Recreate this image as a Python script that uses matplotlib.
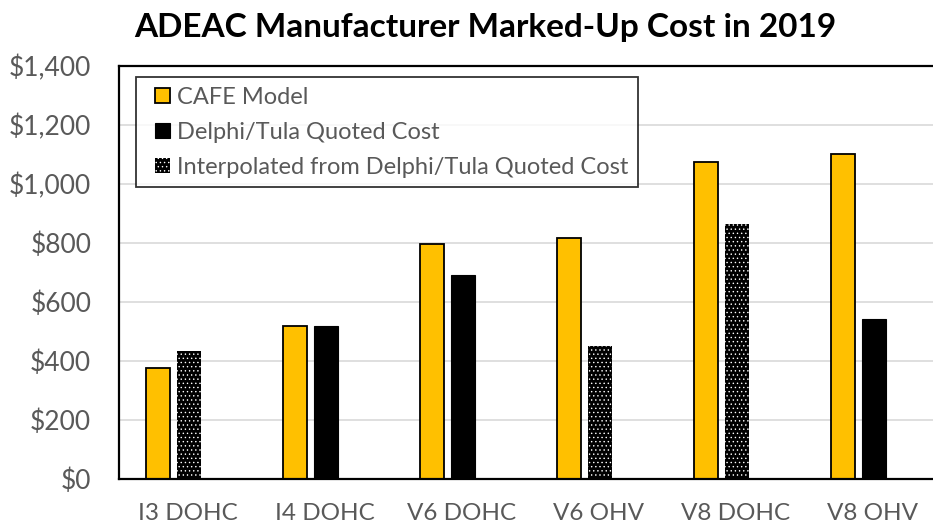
import numpy as np
import matplotlib
matplotlib.use("Agg")
import matplotlib.pyplot as plt
from matplotlib.patches import Patch, Rectangle
from matplotlib.legend_handler import HandlerPatch
from matplotlib.ticker import FuncFormatter, MultipleLocator

# Engine configurations and marked-up costs (USD, 2019)
categories = ["I3 DOHC", "I4 DOHC", "V6 DOHC", "V6 OHV", "V8 DOHC", "V8 OHV"]
cafe_model = [377, 517, 796, 816, 1074, 1101]
delphi_tula_quoted = [np.nan, 519, 690, np.nan, np.nan, 541]
interpolated = [434, np.nan, np.nan, 451, 864, np.nan]

title = "ADEAC Manufacturer Marked-Up Cost in 2019"
series_labels = ["CAFE Model", "Delphi/Tula Quoted Cost",
                 "Interpolated from Delphi/Tula Quoted Cost"]

FONT = ["Lato", "DejaVu Sans"]
GOLD = "#FFC000"
GRAY_TEXT = "#595959"
DOTS = "...."

plt.rcParams["font.family"] = FONT
plt.rcParams["hatch.linewidth"] = 0.5

fig = plt.figure(figsize=(9.33, 5.29), dpi=100)
ax = fig.add_axes([119 / 933, 50 / 529, 822 / 933, 413 / 529])

x = np.arange(len(categories))
w = 0.18
ax.bar(x - 0.215, cafe_model, width=w, color=GOLD, edgecolor="black",
       linewidth=1.3, zorder=3)
ax.bar(x + 0.01, delphi_tula_quoted, width=w, color="black",
       edgecolor="black", linewidth=0.8, zorder=3)
ax.bar(x + 0.01, interpolated, width=w, color="black", edgecolor="white",
       linewidth=0, hatch=DOTS, zorder=3)

ax.set_xlim(-0.5, len(categories) - 0.5)
ax.set_ylim(0, 1400)
ax.yaxis.set_major_locator(MultipleLocator(200))
ax.yaxis.set_major_formatter(FuncFormatter(lambda v, _: f"${v:,.0f}"))
ax.set_xticks(x)
ax.set_xticklabels(categories)

ax.grid(axis="y", color="#D9D9D9", linewidth=1.2, zorder=0)
ax.set_axisbelow(True)
for side in ["left", "top", "bottom", "right"]:
    ax.spines[side].set_color("black")
    ax.spines[side].set_linewidth(1.6)
    ax.spines[side].set_zorder(4)

ax.tick_params(axis="y", length=0, pad=20, labelsize=19, labelcolor=GRAY_TEXT)
ax.tick_params(axis="x", length=0, pad=17, labelsize=17.5, labelcolor=GRAY_TEXT)

fig.text(485 / 933, 1 - 27 / 529, title, ha="center", va="center",
         fontsize=24, fontweight="bold", color="black")


def square_key(legend, orig_handle, xdescent, ydescent, width, height, fontsize):
    # small square key, pushed to the right end of the handle box
    return Rectangle((-xdescent + width - height, -ydescent), height, height)


handles = [
    Patch(facecolor=GOLD, edgecolor="black", linewidth=1.3),
    Patch(facecolor="black", edgecolor="black", linewidth=0.8),
    Patch(facecolor="black", edgecolor="white", linewidth=0, hatch=DOTS),
]
leg = ax.legend(handles, series_labels, loc="upper left",
                bbox_to_anchor=(0.0207, 0.973), fontsize=17,
                frameon=True, fancybox=False, edgecolor="black",
                handler_map={Patch: HandlerPatch(patch_func=square_key)},
                handlelength=1.05, handleheight=0.6, handletextpad=0.3,
                labelspacing=0.6, borderpad=0.4, borderaxespad=0)
leg.get_frame().set_linewidth(1.3)
for t in leg.get_texts():
    t.set_color(GRAY_TEXT)

fig.savefig("out.png", dpi=100)
